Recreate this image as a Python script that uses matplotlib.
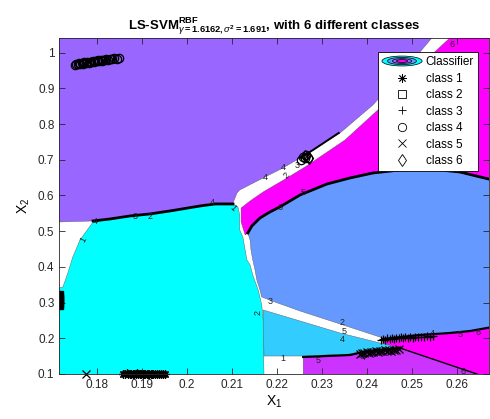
import matplotlib
matplotlib.use("Agg")
import matplotlib.pyplot as plt
from matplotlib.patches import Polygon, Ellipse
from matplotlib.legend_handler import HandlerBase
from matplotlib.lines import Line2D
from matplotlib.patches import Patch

plt.rcParams['font.family'] = ['Liberation Sans', 'DejaVu Sans']
plt.rcParams['mathtext.fontset'] = 'custom'
plt.rcParams['mathtext.rm'] = 'Liberation Sans'
plt.rcParams['mathtext.it'] = 'Liberation Sans:italic'
plt.rcParams['mathtext.bf'] = 'Liberation Sans:bold'

# class colours (cool colormap, 6 levels)
class_colors = ['#00FFFF', '#33CCFF', '#6699FF', '#9966FF', '#CC33FF', '#FF00FF']

# ---- decision regions (x1, x2) ----
region_class4 = [(0.170, 1.06), (0.2545, 1.06), (0.2545, 1.0412), (0.2485, 0.9515), (0.2414, 0.8535),
                 (0.2341, 0.7751), (0.2281, 0.7275), (0.2252, 0.7050), (0.2214, 0.6770),
                 (0.2170, 0.6490), (0.2118, 0.6154), (0.2112, 0.6070), (0.2103, 0.5790),
                 (0.2052, 0.5790), (0.2030, 0.5734), (0.1963, 0.5566), (0.1918, 0.5482),
                 (0.1874, 0.5426), (0.1830, 0.5342), (0.1792, 0.5286), (0.1718, 0.5258),
                 (0.170, 0.5258)]
region_class1 = [(0.170, 0.3353), (0.1725, 0.3437), (0.1736, 0.3829), (0.1747, 0.4277),
                 (0.1763, 0.4754), (0.1792, 0.5258), (0.1830, 0.5342), (0.1874, 0.5426),
                 (0.1918, 0.5482), (0.1963, 0.5566), (0.2030, 0.5706), (0.2063, 0.5762),
                 (0.2103, 0.5762), (0.2114, 0.5678), (0.2118, 0.5454), (0.2118, 0.5034),
                 (0.2125, 0.4838), (0.2130, 0.4473), (0.2134, 0.4193), (0.2141, 0.4053),
                 (0.2147, 0.3773), (0.2159, 0.3353), (0.2167, 0.2933), (0.2170, 0.2513),
                 (0.2172, 0.09), (0.170, 0.09)]
region_class6_top = [(0.2585, 1.06), (0.268, 1.06), (0.268, 0.6434), (0.2607, 0.6658),
                     (0.2541, 0.6742), (0.2474, 0.6714), (0.2414, 0.6630), (0.2363, 0.6490),
                     (0.2312, 0.6322), (0.2252, 0.6014), (0.2207, 0.5678), (0.2163, 0.5370),
                     (0.2145, 0.5146), (0.2136, 0.4950), (0.2130, 0.4894), (0.2121, 0.5258),
                     (0.2121, 0.5650), (0.2141, 0.5846), (0.2170, 0.6098), (0.2223, 0.6490),
                     (0.2263, 0.6798), (0.2296, 0.7078), (0.2352, 0.7555), (0.2425, 0.8395),
                     (0.2496, 0.9375), (0.2585, 1.0412)]
region_class3 = [(0.2136, 0.4950), (0.2145, 0.5146), (0.2163, 0.5370), (0.2185, 0.5538),
                 (0.2207, 0.5678), (0.2252, 0.6014), (0.2312, 0.6322), (0.2363, 0.6490),
                 (0.2414, 0.6630), (0.2474, 0.6714), (0.2541, 0.6742), (0.2607, 0.6658),
                 (0.268, 0.6434), (0.268, 0.2317), (0.2630, 0.2204), (0.2585, 0.2148),
                 (0.2518, 0.2092), (0.2436, 0.2008), (0.2341, 0.2401), (0.2252, 0.2765),
                 (0.2196, 0.3017), (0.2167, 0.3157), (0.2163, 0.3353), (0.2156, 0.3633),
                 (0.2152, 0.3913), (0.2147, 0.4193), (0.2143, 0.4473), (0.2141, 0.4754)]
region_class2 = [(0.2170, 0.2793), (0.2252, 0.2485), (0.2341, 0.2148), (0.2430, 0.1868),
                 (0.2474, 0.1756), (0.2392, 0.1644), (0.2363, 0.1560), (0.2259, 0.1504),
                 (0.2172, 0.1504)]
region_class6_low = [(0.2436, 0.1980), (0.2518, 0.2092), (0.2585, 0.2148), (0.2630, 0.2204),
                     (0.268, 0.2317), (0.268, 0.09), (0.2474, 0.09), (0.2474, 0.1728),
                     (0.2436, 0.1860)]
region_class5 = [(0.2259, 0.09), (0.2259, 0.1476), (0.2363, 0.1532), (0.2392, 0.1616),
                 (0.2474, 0.1728), (0.2645, 0.1000), (0.2645, 0.09)]

# ---- contour lines drawn on the class boundaries ----
line_top_x = [0.1792, 0.1830, 0.1874, 0.1918, 0.1963, 0.2030, 0.2063, 0.2103]
line_top_y = [0.5286, 0.5342, 0.5426, 0.5482, 0.5566, 0.5706, 0.5762, 0.5762]
line_diag_x = [0.2252, 0.2281, 0.2338]
line_diag_y = [0.7050, 0.7275, 0.7751]
line_ell_x = [0.2136, 0.2145, 0.2163, 0.2185, 0.2207, 0.2252, 0.2312, 0.2363, 0.2414, 0.2474,
              0.2541, 0.2607, 0.268]
line_ell_y = [0.4950, 0.5146, 0.5370, 0.5538, 0.5678, 0.6014, 0.6322, 0.6490, 0.6630, 0.6714,
              0.6742, 0.6658, 0.6434]
line_ellb_x = [0.2436, 0.2518, 0.2585, 0.2630, 0.268]
line_ellb_y = [0.1980, 0.2092, 0.2148, 0.2204, 0.2317]
line_low_x = [0.2259, 0.2363, 0.2392, 0.2474]
line_low_y = [0.1476, 0.1532, 0.1616, 0.1728]
line_slope_x = [0.2474, 0.2645]
line_slope_y = [0.1728, 0.1000]

# ---- contour level labels ----
label_text = ['1', '4', '3', '2', '4', '1', '4', '4', '2', '3', '5', '6', '3', '2', '2', '5', '4',
              '1', '5', '4', '4', '5', '6', '6', '6']
label_x = [0.1770, 0.1796, 0.1885, 0.1918, 0.2056, 0.2103, 0.2174, 0.2214, 0.2223, 0.2245,
           0.2259, 0.2207, 0.2185, 0.2159, 0.2345, 0.2349, 0.2345, 0.2214, 0.2292, 0.2392,
           0.2547, 0.2607, 0.2647, 0.2614, 0.2590]
label_y = [0.4754, 0.5258, 0.5398, 0.5398, 0.5790, 0.5650, 0.6490, 0.6770, 0.6570, 0.6850,
           0.6070, 0.5650, 0.3017, 0.2709, 0.2430, 0.2200, 0.1970, 0.1448, 0.1392, 0.1476,
           0.2148, 0.2120, 0.2176, 0.1056, 1.0216]
label_rot = [60, 0, 0, 0, 0, -45, 0, 0, 45, 0, 0, 0, 0, 90, 0, 0, 0, 0, 0, 0, 0, 0, 0, 0, 0]

# ---- training points ----
c1_x = [0.1859, 0.1863, 0.1867, 0.1870, 0.1874, 0.1877, 0.1880, 0.1884, 0.1887, 0.1890,
        0.1893, 0.1896, 0.1899, 0.1902, 0.1905, 0.1908, 0.1911, 0.1914, 0.1917, 0.1920,
        0.1923, 0.1926, 0.1930, 0.1934, 0.1938, 0.1942, 0.1947, 0.1952]
c1_y = [0.1010, 0.1000, 0.1015, 0.1005, 0.1000, 0.1012, 0.1003, 0.1008, 0.1000, 0.1014,
        0.1004, 0.1009, 0.1001, 0.1006, 0.1000, 0.1010, 0.1003, 0.1012, 0.1002, 0.1007,
        0.1000, 0.1011, 0.1004, 0.1008, 0.1001, 0.1006, 0.1010, 0.1002]
c2_x = [0.1716, 0.1717, 0.1716, 0.1717, 0.1716]
c2_y = [0.2920, 0.2990, 0.3060, 0.3130, 0.3200]
c3_x = [0.2432, 0.2436, 0.2441, 0.2446, 0.2451, 0.2456, 0.2461, 0.2466, 0.2471, 0.2476,
        0.2481, 0.2486, 0.2491, 0.2496, 0.2502, 0.2508, 0.2514, 0.2520, 0.2527, 0.2534,
        0.2541, 0.2548]
c3_y = [0.1950, 0.1990, 0.1965, 0.2000, 0.1975, 0.2010, 0.1985, 0.2020, 0.1995, 0.2030,
        0.2005, 0.2035, 0.2010, 0.2040, 0.2015, 0.2045, 0.2025, 0.2050, 0.2035, 0.2055,
        0.2045, 0.2060]
c4_x = [0.1752, 0.1755, 0.1758, 0.1761, 0.1764, 0.1767, 0.1770, 0.1773, 0.1776, 0.1779,
        0.1782, 0.1785, 0.1788, 0.1791, 0.1794, 0.1797, 0.1800, 0.1803, 0.1806, 0.1809,
        0.1812, 0.1815, 0.1818, 0.1821, 0.1825, 0.1829, 0.1834, 0.1839, 0.1845, 0.1850,
        0.2254, 0.2258, 0.2262, 0.2266, 0.2270]
c4_y = [0.9655, 0.9690, 0.9670, 0.9700, 0.9680, 0.9715, 0.9695, 0.9725, 0.9705, 0.9740,
        0.9720, 0.9750, 0.9730, 0.9760, 0.9745, 0.9775, 0.9755, 0.9785, 0.9765, 0.9795,
        0.9775, 0.9805, 0.9790, 0.9820, 0.9800, 0.9835, 0.9815, 0.9850, 0.9835, 0.9860,
        0.7000, 0.7080, 0.7040, 0.7120, 0.7060]
c5_x = [0.1777, 0.2386, 0.2390, 0.2395, 0.2400, 0.2405, 0.2410, 0.2415, 0.2420, 0.2425,
        0.2430, 0.2435, 0.2440, 0.2445, 0.2450, 0.2455, 0.2460, 0.2466, 0.2472]
c5_y = [0.1000, 0.1560, 0.1590, 0.1575, 0.1605, 0.1590, 0.1620, 0.1605, 0.1635, 0.1620,
        0.1650, 0.1635, 0.1660, 0.1645, 0.1670, 0.1655, 0.1680, 0.1665, 0.1690]
c6_x = [0.2262, 0.2272]
c6_y = [0.7100, 0.7060]

x_ticks = [0.18, 0.19, 0.20, 0.21, 0.22, 0.23, 0.24, 0.25, 0.26]
x_ticklabels = ['0.18', '0.19', '0.2', '0.21', '0.22', '0.23', '0.24', '0.25', '0.26']
y_ticks = [0.1, 0.2, 0.3, 0.4, 0.5, 0.6, 0.7, 0.8, 0.9, 1.0]
y_ticklabels = ['0.1', '0.2', '0.3', '0.4', '0.5', '0.6', '0.7', '0.8', '0.9', '1']

# MATLAB-style asterisk: eight spokes
asterisk = (8, 2, 0)

fig = plt.figure(figsize=(4.90, 4.19), dpi=100)
ax = fig.add_axes([0.121, 0.1074, 0.877, 0.8019])
ax.set_xlim(0.1717, 0.2672)
ax.set_ylim(0.1, 1.041)

regions = [(region_class4, 3), (region_class1, 0), (region_class6_top, 5), (region_class3, 2),
           (region_class2, 1), (region_class6_low, 5), (region_class5, 4)]
for verts, k in regions:
    ax.add_patch(Polygon(verts, closed=True, facecolor=class_colors[k],
                         edgecolor='#555555', linewidth=0.3, zorder=1))

ax.plot(line_top_x, line_top_y, color='black', lw=2.0, zorder=3)
ax.plot(line_diag_x, line_diag_y, color='black', lw=1.4, zorder=3)
ax.plot(line_ell_x, line_ell_y, color='black', lw=2.0, zorder=3)
ax.plot(line_ellb_x, line_ellb_y, color='black', lw=1.6, zorder=3)
ax.plot(line_low_x, line_low_y, color='black', lw=1.6, zorder=3)
ax.plot(line_slope_x, line_slope_y, color='black', lw=1.0, zorder=3)

for t, x, y, r in zip(label_text, label_x, label_y, label_rot):
    ax.text(x, y, t, fontsize=6.5, color='#222222', rotation=r, ha='center', va='center',
            zorder=4)

mk = dict(color='black', linestyle='none', markersize=6, markeredgewidth=0.9, zorder=5,
          clip_on=False)
ax.plot(c1_x, c1_y, marker=asterisk, **mk)
ax.plot(c2_x, c2_y, marker='s', markerfacecolor='black', color='black', linestyle='none',
        markersize=6, zorder=5, clip_on=True)
ax.plot(c3_x, c3_y, marker='+', **mk)
ax.plot(c4_x, c4_y, marker='o', markerfacecolor='none', **mk)
ax.plot(c5_x, c5_y, marker='x', **mk)
ax.plot(c6_x, c6_y, marker='d', markerfacecolor='none', **mk)


class ClassifierHandler(HandlerBase):
    def create_artists(self, legend, orig_handle, xdescent, ydescent, width, height,
                       fontsize, trans):
        cx, cy = width / 2 - xdescent, height / 2 - ydescent
        arts = []
        for scale, col in [(1.0, class_colors[0]), (0.72, class_colors[2]),
                           (0.48, class_colors[3]), (0.28, class_colors[5])]:
            e = Ellipse((cx, cy), width * scale, height * 1.2 * scale, facecolor=col,
                        edgecolor='black', linewidth=0.5, transform=trans)
            arts.append(e)
        return arts


handles = [Patch(facecolor=class_colors[0])]
labels = ['Classifier']
for m, lab in zip([asterisk, 's', '+', 'o', 'x', 'd'],
                  ['class 1', 'class 2', 'class 3', 'class 4', 'class 5', 'class 6']):
    handles.append(Line2D([], [], marker=m, color='black', linestyle='none', markersize=6,
                          markerfacecolor='none', markeredgewidth=0.6))
    labels.append(lab)

leg = ax.legend(handles, labels, loc='upper right', bbox_to_anchor=(0.9744, 0.9583),
                borderaxespad=0, fontsize=8.5, handlelength=3.4, handletextpad=0.3,
                labelspacing=0.38, borderpad=0.35, fancybox=False, framealpha=1,
                edgecolor='black', handler_map={Patch: ClassifierHandler()})
leg.get_frame().set_linewidth(0.6)
leg.set_zorder(10)

ax.set_xticks(x_ticks)
ax.set_xticklabels(x_ticklabels)
ax.set_yticks(y_ticks)
ax.set_yticklabels(y_ticklabels)
ax.tick_params(direction='in', top=True, right=True, length=4, width=0.6,
               labelsize=8.5, colors='#262626')
for s in ax.spines.values():
    s.set_linewidth(0.6)
    s.set_color('#262626')
    s.set_zorder(6)

ax.set_xlabel(r'$\mathregular{X_1}$', fontsize=10, labelpad=2)
ax.set_ylabel(r'$\mathregular{X_2}$', fontsize=10, labelpad=4)
ax.set_title(r'LS-SVM$^{\mathbf{RBF}}_{\gamma\mathbf{=1.6162,}\sigma^{\mathbf{2}}\mathbf{=1.691}}$'
             r', with 6 different classes', fontsize=9.5, fontweight='bold', pad=6)

fig.savefig('out.png', dpi=100)
